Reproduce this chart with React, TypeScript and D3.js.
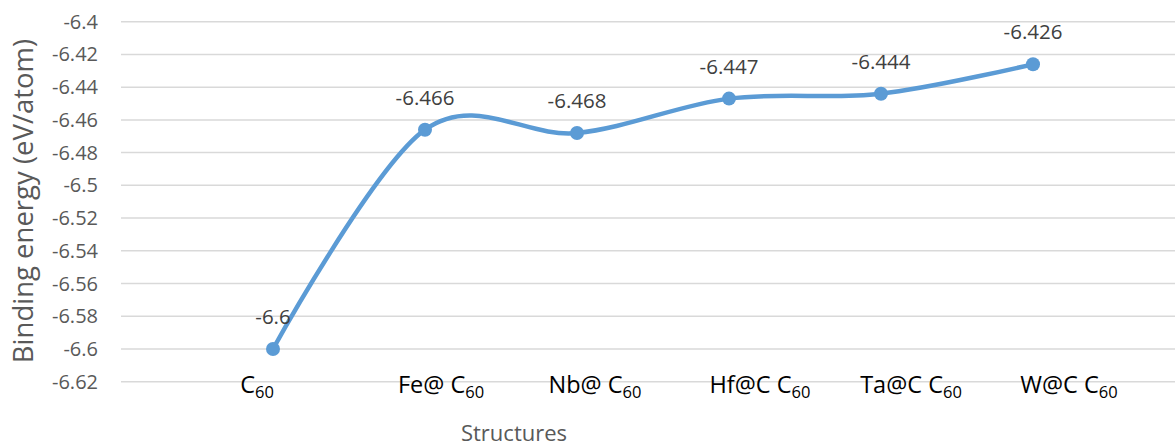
import React from "react";
import * as d3 from "d3";

// Binding energy per atom for C60 and the metal-doped fullerenes
const prefixes = ["", "Fe@ ", "Nb@ ", "Hf@C ", "Ta@C ", "W@C "];
const categories = ["C60", "Fe@ C60", "Nb@ C60", "Hf@C C60", "Ta@C C60", "W@C C60"];
const bindingEnergy = [-6.6, -6.466, -6.468, -6.447, -6.444, -6.426];
const yTicks = [-6.4, -6.42, -6.44, -6.46, -6.48, -6.5, -6.52, -6.54, -6.56, -6.58, -6.6, -6.62];

const W = 1175;
const H = 448;
const FONT = "'Open Sans', sans-serif";
const BLUE = "#5B9BD5";

export default function App() {
  const y = d3.scaleLinear().domain([-6.62, -6.4]).range([381.7, 21.7]);
  const x = d3.scaleBand<string>().domain(categories).range([197, 1109]).padding(0);
  const cx = (c: string) => (x(c) as number) + x.bandwidth() / 2;
  const labelShift = [-16, 16, 18, 31, 30, 36];

  const pts = categories.map((c, i) => [cx(c), y(bindingEnergy[i])] as [number, number]);
  const line = d3.line().curve(d3.curveCatmullRom.alpha(0))(pts) as string;

  return (
    <svg width={W} height={H} style={{ position: "absolute", left: 0, top: 0, background: "#fff" }}>
      {/* horizontal gridlines */}
      {yTicks.map((t) => (
        <line key={t} x1={121} x2={W} y1={y(t)} y2={y(t)} stroke="#D9D9D9" strokeWidth={1.5} />
      ))}
      {/* y tick labels */}
      {yTicks.map((t) => (
        <text key={"l" + t} x={98} y={y(t)} dy="0.35em" textAnchor="end" fontFamily={FONT} fontSize={20} fill="#595959">
          {String(t)}
        </text>
      ))}
      {/* category labels with subscript */}
      {categories.map((c, i) => (
        <text key={c} x={cx(c) + labelShift[i]} y={393} textAnchor="middle" fontFamily={FONT} fontSize={23.5} fill="#000">
          <tspan>{prefixes[i]}C</tspan>
          <tspan fontSize={16.5} dy={5}>60</tspan>
        </text>
      ))}
      {/* smoothed series line */}
      <path d={line} fill="none" stroke={BLUE} strokeWidth={4.5} strokeLinecap="round" />
      {pts.map(([px, py], i) => (
        <circle key={i} cx={px} cy={py} r={7} fill={BLUE} />
      ))}
      {/* value labels */}
      {pts.map(([px, py], i) => (
        <text key={"v" + i} x={px} y={py - 25} textAnchor="middle" fontFamily={FONT} fontSize={20.5} fill="#404040">
          {String(bindingEnergy[i])}
        </text>
      ))}
      {/* axis titles */}
      <text transform={`translate(33,201) rotate(-90)`} textAnchor="middle" fontFamily={FONT} fontSize={27.5} fill="#595959">
        Binding energy (eV/atom)
      </text>
      <text x={514} y={441} textAnchor="middle" fontFamily={FONT} fontSize={22} fill="#595959">
        Structures
      </text>
    </svg>
  );
}
